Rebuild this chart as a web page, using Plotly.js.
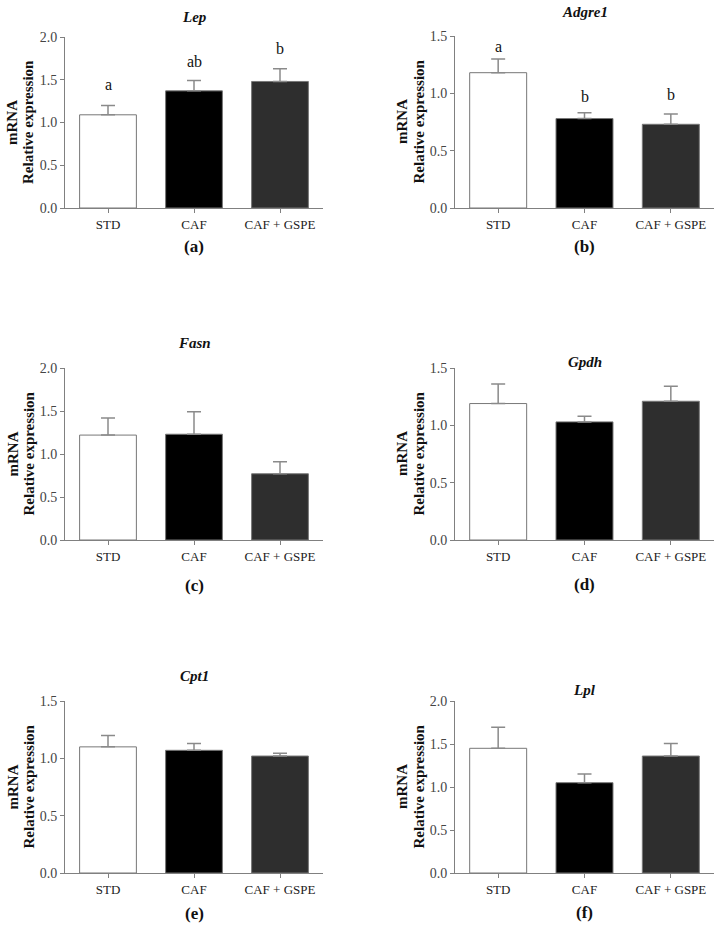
<!DOCTYPE html>
<html>
<head>
<meta charset="utf-8">
<script src="https://cdn.plot.ly/plotly-3.0.1.min.js"></script>
<style>html,body{margin:0;padding:0;background:#fff}#chart{width:723px;height:927px}</style>
</head>
<body>
<div id="chart"></div>
<script>
// ---------- DATA ----------
const groups = ['STD', 'CAF', 'CAF + GSPE'];
const genes = ['Lep', 'Adgre1', 'Fasn', 'Gpdh', 'Cpt1', 'Lpl'];
const panelLabels = ['(a)', '(b)', '(c)', '(d)', '(e)', '(f)'];

const lepMean = [1.09, 1.37, 1.48];
const lepSem = [0.11, 0.12, 0.15];
const adgre1Mean = [1.18, 0.78, 0.73];
const adgre1Sem = [0.12, 0.05, 0.09];
const fasnMean = [1.22, 1.23, 0.77];
const fasnSem = [0.20, 0.26, 0.14];
const gpdhMean = [1.19, 1.03, 1.21];
const gpdhSem = [0.17, 0.05, 0.13];
const cpt1Mean = [1.10, 1.07, 1.02];
const cpt1Sem = [0.10, 0.06, 0.025];
const lplMean = [1.45, 1.05, 1.36];
const lplSem = [0.245, 0.10, 0.145];

const lepLetters = ['a', 'ab', 'b'];
const adgre1Letters = ['a', 'b', 'b'];

const yAxisMax = [2.0, 1.5, 2.0, 1.5, 1.5, 2.0];
const yTickStep = 0.5;
const yTitleLines = ['mRNA', 'Relative expression'];

// ---------- STYLE / LAYOUT ----------
const W = 723, H = 927;
const FONT = 'Liberation Serif, Times New Roman, serif';
const barColors = ['#ffffff', '#000000', '#2e2e2e'];
const axisGray = '#808080';

const means = [lepMean, adgre1Mean, fasnMean, gpdhMean, cpt1Mean, lplMean];
const sems = [lepSem, adgre1Sem, fasnSem, gpdhSem, cpt1Sem, lplSem];
const letters = [lepLetters, adgre1Letters, null, null, null, null];
const letterLift = [[21, 19, 20], [12, 16, 19]];

// pixel boxes of the plot areas [left, right, top, bottom]
const boxes = [
  [65, 323, 37, 208],
  [455, 714, 36, 208],
  [65, 323, 368, 540],
  [455, 714, 368, 540],
  [65, 323, 701, 873],
  [455, 714, 701, 873]
];
const titleY = [17, 12, 343, 362, 676, 690];
const labelY = [247, 247, 585, 584, 913, 912];
const yTitleX = [[12.5, 28.5], [402, 418.5]];

const traces = [];
const annotations = [];
const layout = {
  width: W, height: H,
  margin: {l: 0, r: 0, t: 0, b: 0},
  paper_bgcolor: '#fff', plot_bgcolor: '#fff',
  showlegend: false,
  font: {family: FONT, size: 13, color: '#333'},
  annotations: annotations
};

function yTicks(max) {
  const v = [];
  for (let t = 0; t <= max + 1e-9; t += yTickStep) v.push(+t.toFixed(2));
  return v;
}

for (let i = 0; i < 6; i++) {
  const n = i + 1;
  const xa = n === 1 ? 'x' : 'x' + n;
  const ya = n === 1 ? 'y' : 'y' + n;
  const b = boxes[i];
  traces.push({
    type: 'bar',
    x: groups,
    y: means[i],
    xaxis: xa, yaxis: ya,
    width: 0.66,
    marker: {color: barColors, line: {color: '#777', width: 1}},
    error_y: {type: 'data', symmetric: false, array: sems[i], arrayminus: [0, 0, 0],
              color: '#8a8a8a', thickness: 1.5, width: 7},
    hoverinfo: 'skip'
  });
  const xKey = n === 1 ? 'xaxis' : 'xaxis' + n;
  const yKey = n === 1 ? 'yaxis' : 'yaxis' + n;
  layout[xKey] = {
    domain: [b[0] / W, b[1] / W],
    anchor: ya,
    type: 'category',
    range: [-0.5, 2.5],
    showline: true, linecolor: axisGray, linewidth: 1,
    ticks: 'outside', ticklen: 4, tickcolor: axisGray, tickwidth: 1,
    showgrid: false, zeroline: false,
    tickfont: {family: FONT, size: 13, color: '#222'},
    fixedrange: true
  };
  layout[yKey] = {
    domain: [1 - b[3] / H, 1 - b[2] / H],
    anchor: xa,
    range: [0, yAxisMax[i]],
    tickvals: yTicks(yAxisMax[i]),
    tickformat: '.1f',
    showline: true, linecolor: axisGray, linewidth: 1,
    ticks: 'outside', ticklen: 4, tickcolor: axisGray, tickwidth: 1,
    showgrid: false, zeroline: false,
    tickfont: {family: FONT, size: 14, color: '#444'},
    fixedrange: true
  };
  const cx = (b[0] + b[1]) / 2;
  // gene title
  annotations.push({
    xref: 'paper', yref: 'paper', x: cx / W, y: 1 - titleY[i] / H,
    xanchor: 'center', yanchor: 'middle', showarrow: false,
    text: '<b><i>' + genes[i] + '</i></b>',
    font: {family: FONT, size: 15, color: '#111'}
  });
  // panel label
  annotations.push({
    xref: 'paper', yref: 'paper', x: cx / W, y: 1 - labelY[i] / H,
    xanchor: 'center', yanchor: 'middle', showarrow: false,
    text: '<b>' + panelLabels[i] + '</b>',
    font: {family: FONT, size: 17, color: '#111'}
  });
  // y axis title, two lines
  for (let L = 0; L < yTitleLines.length; L++) {
    annotations.push({
      xref: 'paper', yref: 'paper', x: yTitleX[i % 2][L] / W, y: 1 - ((b[2] + b[3]) / 2) / H,
      xanchor: 'center', yanchor: 'middle', showarrow: false, textangle: -90,
      text: '<b>' + yTitleLines[L] + '</b>',
      font: {family: FONT, size: 15, color: '#111'}
    });
  }
  // significance letters
  if (letters[i]) {
    for (let k = 0; k < groups.length; k++) {
      annotations.push({
        xref: xa, yref: ya, x: groups[k], y: means[i][k] + sems[i][k],
        xanchor: 'center', yanchor: 'middle', yshift: letterLift[i][k], showarrow: false,
        text: letters[i][k],
        font: {family: FONT, size: 16, color: '#111'}
      });
    }
  }
}

Plotly.newPlot('chart', traces, layout, {staticPlot: true, displayModeBar: false});
</script>
</body>
</html>
